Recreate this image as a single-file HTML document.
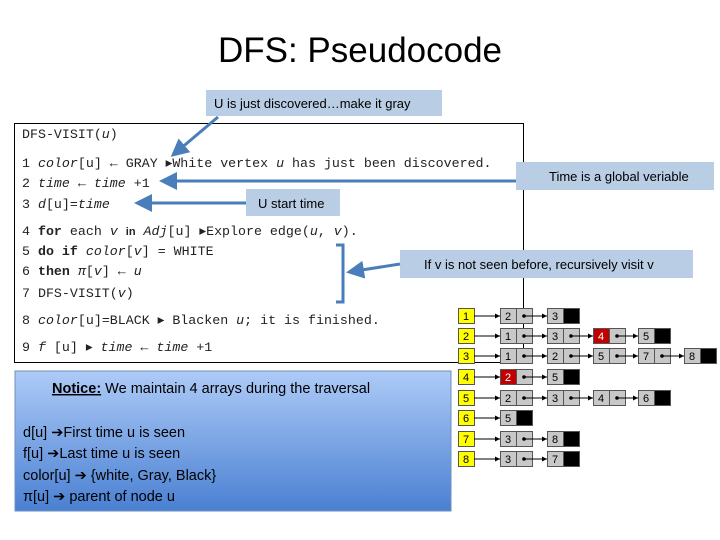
<!DOCTYPE html>
<html><head><meta charset="utf-8"><style>
body{margin:0;width:720px;height:540px;background:#fff;overflow:hidden;font-family:"Liberation Sans",sans-serif}
</style></head><body>
<svg width="720" height="540" xmlns="http://www.w3.org/2000/svg" style="position:absolute;left:0;top:0">
<defs>
<linearGradient id="g" x1="0" y1="0" x2="0" y2="1"><stop offset="0" stop-color="#aecbf7"/><stop offset="1" stop-color="#4a80d2"/></linearGradient>
<marker id="a" markerWidth="6" markerHeight="6" refX="5" refY="3" orient="auto" markerUnits="strokeWidth"><path d="M0,0 L6,3 L0,6 z" fill="#4a7ebb"/></marker>
<marker id="k" markerWidth="5" markerHeight="5" refX="5" refY="2.5" orient="auto" markerUnits="userSpaceOnUse"><path d="M0,0 L5,2.5 L0,5 z" fill="#000"/></marker>
</defs>
<text x="360" y="62" font-size="35" text-anchor="middle" font-family="Liberation Sans">DFS: Pseudocode</text>
<!-- code box -->
<rect x="14.5" y="123.5" width="509" height="239" fill="#fff" stroke="#000"/>
<g font-family="Liberation Mono" font-size="13.3" fill="#222">
<text x="22" y="138">DFS-VISIT(<tspan font-style="italic">u</tspan>)</text>
<text x="22" y="167">1  <tspan font-style="italic">color</tspan>[u] ← GRAY     ▸White vertex <tspan font-style="italic">u</tspan> has just been discovered.</text>
<text x="22" y="187">2  <tspan font-style="italic">time</tspan> ← <tspan font-style="italic">time</tspan> +1</text>
<text x="22" y="208">3  <tspan font-style="italic">d</tspan>[u]=<tspan font-style="italic">time</tspan></text>
<text x="22" y="235">4  <tspan font-weight="bold">for</tspan> each <tspan font-style="italic">v</tspan> <tspan font-weight="bold" font-family="Liberation Sans" font-size="11">in</tspan> <tspan font-style="italic">Adj</tspan>[u]  ▸Explore edge(<tspan font-style="italic">u</tspan>, <tspan font-style="italic">v</tspan>).</text>
<text x="22" y="255">5      <tspan font-weight="bold">do if</tspan> <tspan font-style="italic">color</tspan>[<tspan font-style="italic">v</tspan>] = WHITE</text>
<text x="22" y="275">6           <tspan font-weight="bold">then</tspan> <tspan font-style="italic">π</tspan>[<tspan font-style="italic">v</tspan>] ← <tspan font-style="italic">u</tspan></text>
<text x="22" y="297">7                DFS-VISIT(<tspan font-style="italic">v</tspan>)</text>
<text x="22" y="324">8  <tspan font-style="italic">color</tspan>[u]=BLACK      ▸ Blacken <tspan font-style="italic">u</tspan>; it is finished.</text>
<text x="22" y="351">9  <tspan font-style="italic">f</tspan> [u] ▸ <tspan font-style="italic">time</tspan> ← <tspan font-style="italic">time</tspan> +1</text>
</g>
<!-- bracket -->
<path d="M336,245 H343 V302 H336" fill="none" stroke="#4a7ebb" stroke-width="3"/>
<!-- callouts -->
<g font-size="13" fill="#000">
<rect x="206" y="90" width="236" height="26" fill="#b9cde5"/>
<text x="214" y="108">U is just discovered…make it gray</text>
<rect x="516" y="162" width="198" height="28" fill="#b9cde5"/>
<text x="549" y="181">Time is a global veriable</text>
<rect x="246" y="189" width="94" height="27" fill="#b9cde5"/>
<text x="258" y="208">U start time</text>
<rect x="400" y="250" width="293" height="28" fill="#b9cde5"/>
<text x="424" y="269">If v is not seen before, recursively visit v</text>
</g>
<g stroke="#4a7ebb" stroke-width="3" fill="none">
<line x1="218" y1="117" x2="173" y2="155" marker-end="url(#a)"/>
<line x1="516" y1="181" x2="162" y2="181" marker-end="url(#a)"/>
<line x1="246" y1="203" x2="137" y2="203" marker-end="url(#a)"/>
<line x1="400" y1="264" x2="349" y2="272" marker-end="url(#a)"/>
</g>
<!-- notice -->
<rect x="15" y="371" width="436" height="140" fill="url(#g)" stroke="#6f8fbf"/>
<g font-size="14.5" fill="#000">
<text x="52" y="393"><tspan font-weight="bold" text-decoration="underline">Notice:</tspan> We maintain 4 arrays during the traversal</text>
<text x="23" y="437">d[u] ➔First time u is seen</text>
<text x="23" y="458">f[u] ➔Last time u is seen</text>
<text x="23" y="480">color[u] ➔ {white, Gray, Black}</text>
<text x="23" y="501">π[u] ➔ parent of node u</text>
</g>
<!-- adjacency lists -->
<g id="adj" font-size="11" font-family="Liberation Sans">
</g>
</svg>
<script>
(function(){
var rows=[[[2,0],[3,1]],[[1,0],[3,0],[4,0,1],[5,1]],[[1,0],[2,0],[5,0],[7,0],[8,1]],[[2,0,1],[5,1]],[[2,0],[3,0],[4,0],[6,1]],[[5,1]],[[3,0],[8,1]],[[3,0],[7,1]]];
var ys=[308,328,348,369,390,410,431,451];var xs=[500,547,593,638,684];
var g=document.getElementById('adj'),ns='http://www.w3.org/2000/svg',s='';
rows.forEach(function(r,i){var y=ys[i];
s+='<rect x="458.5" y="'+(y+.5)+'" width="16" height="15" fill="#ffff00" stroke="#555"/><text x="463" y="'+(y+12)+'">'+(i+1)+'</text>';
s+='<line x1="474" y1="'+(y+8)+'" x2="'+xs[0]+'" y2="'+(y+8)+'" stroke="#000" marker-end="url(#k)"/>';
r.forEach(function(c,j){var x=xs[j];
s+='<rect x="'+(x+.5)+'" y="'+(y+.5)+'" width="16" height="15" fill="'+(c[2]?'#c00000':'#c8c8c8')+'" stroke="#555"/>';
s+='<text x="'+(x+5)+'" y="'+(y+12)+'" fill="'+(c[2]?'#fff':'#000')+'">'+c[0]+'</text>';
if(c[1]){s+='<rect x="'+(x+16.5)+'" y="'+(y+.5)+'" width="16" height="15" fill="#000" stroke="#555"/>';}
else{s+='<rect x="'+(x+16.5)+'" y="'+(y+.5)+'" width="16" height="15" fill="#c8c8c8" stroke="#555"/><circle cx="'+(x+24)+'" cy="'+(y+8)+'" r="1.8" fill="#000"/>';
if(j+1<r.length)s+='<line x1="'+(x+24)+'" y1="'+(y+8)+'" x2="'+xs[j+1]+'" y2="'+(y+8)+'" stroke="#000" marker-end="url(#k)"/>';}
});});
g.innerHTML=s;})();
</script>
</body></html>
